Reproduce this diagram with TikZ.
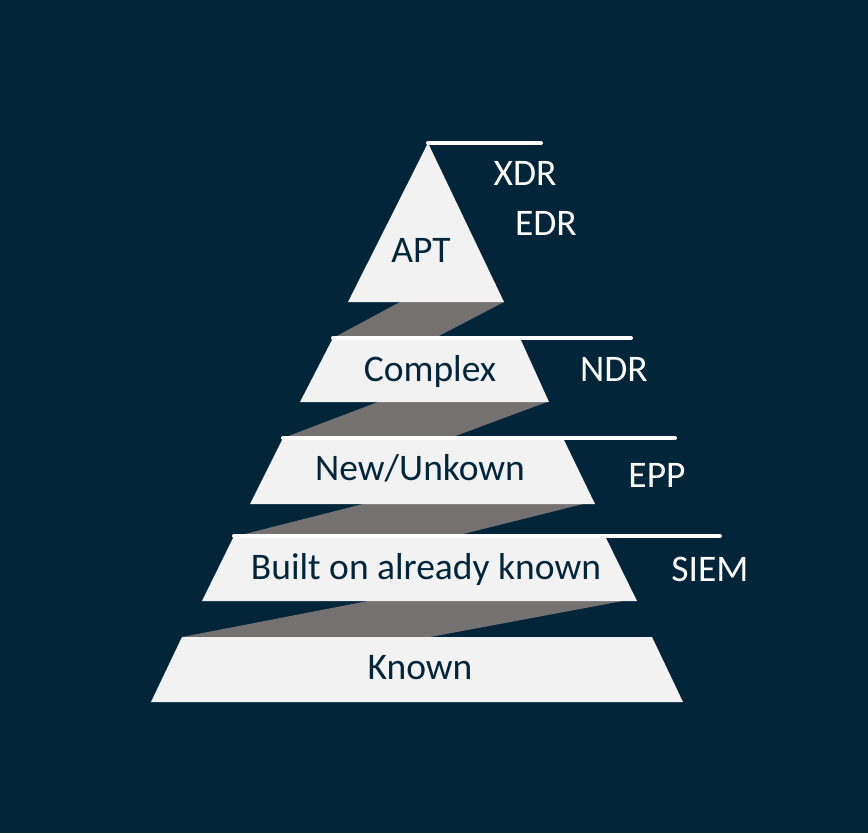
\documentclass[tikz,border=0pt]{standalone}
\usepackage{fontspec}
\setmainfont{Carlito}
\definecolor{bgnavy}{HTML}{02253A}
\definecolor{layergray}{HTML}{F2F2F2}
\definecolor{bandgray}{HTML}{767171}
\begin{document}
\begin{tikzpicture}[
        x=1pt, y=-1pt, % pixel coordinates, y downwards
        layer/.style = {fill=layergray, draw=none}, % pyramid layers
        band/.style = {fill=bandgray, draw=none}, % links between layers
        rim/.style = {draw=white, line width=4pt, line cap=round},
        lbl/.style = {anchor=base, text=bgnavy, font=\fontsize{37.5}{42}\selectfont},
        tool/.style = {anchor=base, text=white, font=\fontsize{37.5}{42}\selectfont},
    ]

    \fill[bgnavy] (0,0) rectangle (868,833);
    \useasboundingbox (0,0) rectangle (868,833);

    % corners of the layers
    \coordinate (apt-top) at (428,143);
    \coordinate (cpx-nw) at (333,338);
    \coordinate (new-nw) at (283,438);
    \coordinate (blt-nw) at (234,536);
    % free ends of the rims
    \coordinate (xdr-end) at (541,143);
    \coordinate (ndr-end) at (631,338);
    \coordinate (epp-end) at (675,438);
    \coordinate (siem-end) at (720,536);

    % links
    \fill[band] (400,302) -- (504,302) -- (435,338) -- (333,338) -- cycle;
    \fill[band] (378,402) -- (547,402) -- (450,438) -- (283,438) -- cycle;
    \fill[band] (363,504) -- (583,504) -- (455,536) -- (237,536) -- cycle;
    \fill[band] (368,601) -- (623,601) -- (430,637) -- (182,637) -- cycle;

    % layers
    \fill[layer] (apt-top) -- (504,302) -- (348,302) -- cycle;
    \fill[layer] (cpx-nw) -- (520,338) -- (549,402) -- (300,402) -- cycle;
    \fill[layer] (new-nw) -- (563,438) -- (595,504) -- (250,504) -- cycle;
    \fill[layer] (blt-nw) -- (605,536) -- (637,601) -- (202,601) -- cycle;
    \fill[layer] (182,637) -- (652,637) -- (683,702) -- (151,702) -- cycle;

    % rims
    \draw[rim] (apt-top) -- (xdr-end);
    \draw[rim] (cpx-nw) -- (ndr-end);
    \draw[rim] (new-nw) -- (epp-end);
    \draw[rim] (blt-nw) -- (siem-end);

    \node[lbl] (apt) at (421,262) {APT};
    \node[lbl] (complex) at (430,381) {Complex};
    \node[lbl] (new) at (420,480) {New/Unkown};
    \node[lbl] (built) at (426,579) {Built on already known};
    \node[lbl] (known) at (420,679) {Known};

    \node[tool] (xdr) at (525,185) {XDR};
    \node[tool] (edr) at (546,235) {EDR};
    \node[tool] (ndr) at (614,381) {NDR};
    \node[tool] (epp) at (657,487) {EPP};
    \node[tool] (siem) at (710,581) {SIEM};

\end{tikzpicture}
\end{document}
